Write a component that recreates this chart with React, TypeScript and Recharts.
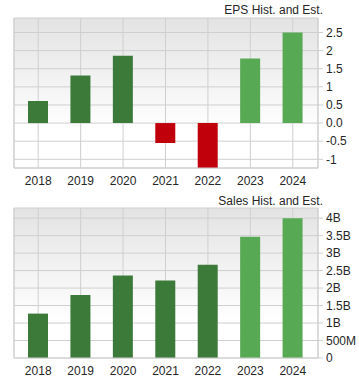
import React from "react";
import { BarChart, Bar, XAxis, YAxis, CartesianGrid, Cell } from "recharts";

const years = ["2018", "2019", "2020", "2021", "2022", "2023", "2024"];
const isEstimate = [false, false, false, false, false, true, true];
const epsValues = [0.61, 1.31, 1.86, -0.55, -1.24, 1.78, 2.5];
const salesValues = [1.27, 1.8, 2.36, 2.22, 2.67, 3.47, 4.0]; // billions

const epsTicks = [-1, -0.5, 0, 0.5, 1, 1.5, 2, 2.5];
const epsTickLabels = ["-1", "-0.5", "0.0", "0.5", "1", "1.5", "2", "2.5"];
const salesTicks = [0, 0.5, 1, 1.5, 2, 2.5, 3, 3.5, 4];
const salesTickLabels = ["0", "500M", "1B", "1.5B", "2B", "2.5B", "3B", "3.5B", "4B"];

const epsData = years.map((y, i) => ({ year: y, value: epsValues[i], est: isEstimate[i] }));
const salesData = years.map((y, i) => ({ year: y, value: salesValues[i], est: isEstimate[i] }));

const DARK = "#3c7a39";
const LIGHT = "#58a953";
const RED = "#c0000b";
const GRID = "#cfcfcf";
const TEXT = "#262626";
const FONT = "Arial, 'Liberation Sans', sans-serif";

function colorFor(v: number, est: boolean) {
  if (v < 0) return RED;
  return est ? LIGHT : DARK;
}

type Props = {
  data: { year: string; value: number; est: boolean }[];
  domain: [number, number];
  ticks: number[];
  labels: string[];
  gid: string;
};

function Panel({ data, domain, ticks, labels, gid }: Props) {
  const fmt = (v: number) => {
    const i = ticks.indexOf(v);
    return i >= 0 ? labels[i] : String(v);
  };
  return (
    <BarChart
      width={359}
      height={190}
      data={data}
      margin={{ top: 18, right: 0, bottom: 0, left: 0 }}
      barSize={20}
    >
      <defs>
        <linearGradient id={gid} x1="0" y1="0" x2="0" y2="1">
          <stop offset="0%" stopColor="#e3e3e3" />
          <stop offset="75%" stopColor="#ffffff" />
          <stop offset="100%" stopColor="#ffffff" />
        </linearGradient>
      </defs>
      <CartesianGrid stroke={GRID} fill={`url(#${gid})`} fillOpacity={1} />
      <XAxis
        dataKey="year"
        padding={{ left: 3, right: 4 }}
        height={22}
        tickLine={false}
        tickMargin={2}
        axisLine={{ stroke: GRID }}
        tick={{ fill: TEXT, fontSize: 12, fontFamily: FONT }}
        interval={0}
      />
      <YAxis
        yAxisId="left"
        orientation="left"
        width={14}
        domain={domain}
        type="number"
        allowDataOverflow
        tick={false}
        tickLine={false}
        axisLine={{ stroke: GRID }}
      />
      <YAxis
        orientation="right"
        width={41}
        domain={domain}
        type="number"
        allowDataOverflow
        ticks={ticks}
        interval={0}
        tickFormatter={fmt}
        tickSize={5}
        tickMargin={3}
        tickLine={{ stroke: GRID }}
        axisLine={{ stroke: GRID }}
        tick={{ fill: TEXT, fontSize: 12, fontFamily: FONT, textAnchor: "start" }}
      />
      <Bar dataKey="value" isAnimationActive={false}>
        {data.map((d, i) => (
          <Cell key={i} fill={colorFor(d.value, d.est)} />
        ))}
      </Bar>
    </BarChart>
  );
}

const titleStyle: React.CSSProperties = {
  position: "absolute",
  right: 36,
  fontFamily: FONT,
  fontSize: 12,
  color: TEXT,
  lineHeight: "14px",
  whiteSpace: "nowrap",
};

export default function App() {
  return (
    <div
      style={{
        position: "absolute",
        left: 0,
        top: 0,
        width: 359,
        height: 378,
        background: "#fff",
        fontFamily: FONT,
        overflow: "hidden",
      }}
    >
      <div style={{ position: "absolute", left: 0, top: 0 }}>
        <Panel data={epsData} domain={[-1.24, 2.9]} ticks={epsTicks} labels={epsTickLabels} gid="g1" />
      </div>
      <div style={{ position: "absolute", left: 0, top: 190 }}>
        <Panel data={salesData} domain={[0, 4.29]} ticks={salesTicks} labels={salesTickLabels} gid="g2" />
      </div>
      <div style={{ ...titleStyle, top: 3 }}>EPS Hist. and Est.</div>
      <div style={{ ...titleStyle, top: 194 }}>Sales Hist. and Est.</div>
    </div>
  );
}
